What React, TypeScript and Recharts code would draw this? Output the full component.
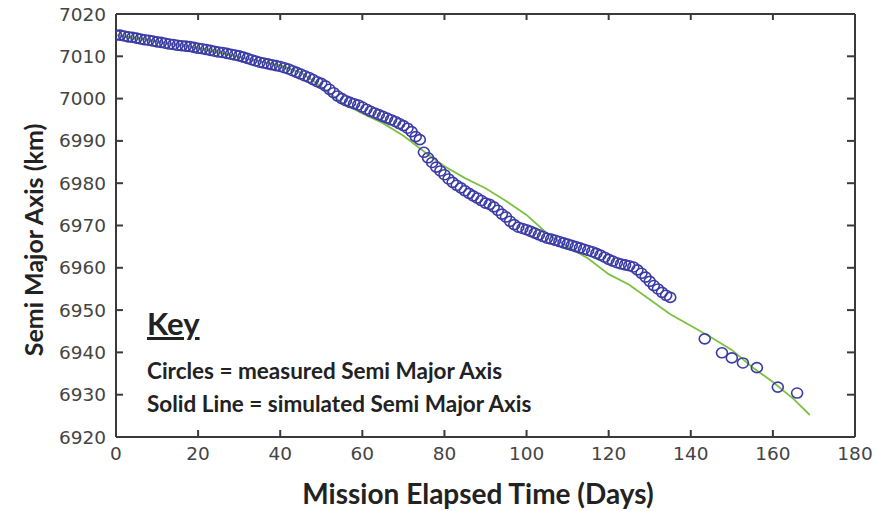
import React from "react";
import { ComposedChart, Line, Scatter, XAxis, YAxis } from "recharts";

// measured semi major axis (circles), day -> km
const measuredDays = [
  0, 1, 2, 3, 4, 5, 6, 7, 8, 9, 10, 11, 12, 13, 14, 15, 16, 17, 18, 19, 20,
  21, 22, 23, 24, 25, 26, 27, 28, 29, 30, 31, 32, 33, 34, 35, 36, 37, 38, 39,
  40, 41, 42, 43, 44, 45, 46, 47, 48, 49, 50, 51, 52, 53, 54, 55, 56, 57, 58,
  59, 60, 61, 62, 63, 64, 65, 66, 67, 68, 69, 70, 71, 72, 73, 74, 75, 76, 77,
  78, 79, 80, 81, 82, 83, 84, 85, 86, 87, 88, 89, 90, 91, 92, 93, 94, 95, 96,
  97, 98, 99, 100, 101, 102, 103, 104, 105, 106, 107, 108, 109, 110, 111, 112,
  113, 114, 115, 116, 117, 118, 119, 120, 121, 122, 123, 124, 125, 126, 127,
  128, 129, 130, 131, 132, 133, 134, 135, 143.4, 147.6, 150, 152.7, 156.1,
  161.2, 165.9,
];
const measuredKm = [
  7015.0, 7015.0, 7014.8, 7014.6, 7014.5, 7014.3, 7014.1, 7013.9, 7013.8,
  7013.6, 7013.4, 7013.3, 7013.1, 7012.9, 7012.8, 7012.6, 7012.5, 7012.4,
  7012.3, 7012.1, 7011.9, 7011.8, 7011.6, 7011.4, 7011.2, 7011.0, 7010.9,
  7010.7, 7010.5, 7010.3, 7010.1, 7009.8, 7009.5, 7009.2, 7008.9, 7008.6,
  7008.4, 7008.2, 7008.0, 7007.8, 7007.6, 7007.3, 7007.0, 7006.6, 7006.2,
  7005.8, 7005.4, 7005.0, 7004.5, 7004.0, 7003.6, 7003.0, 7002.2, 7001.4,
  7000.6, 7000.0, 6999.5, 6999.1, 6998.8, 6998.5, 6998.0, 6997.5, 6997.0,
  6996.6, 6996.2, 6995.8, 6995.4, 6995.0, 6994.6, 6994.1, 6993.6, 6993.0,
  6992.2, 6991.0, 6990.3, 6987.3, 6986.0, 6984.9, 6983.8, 6982.9, 6982.0,
  6981.0, 6980.2, 6979.5, 6978.9, 6978.2, 6977.6, 6977.0, 6976.5, 6975.9,
  6975.3, 6975.0, 6974.4, 6973.6, 6972.7, 6972.0, 6971.0, 6970.2, 6969.6,
  6969.3, 6969.0, 6968.6, 6968.2, 6967.8, 6967.4, 6967.0, 6966.8, 6966.5,
  6966.2, 6965.9, 6965.6, 6965.3, 6965.0, 6964.7, 6964.4, 6964.1, 6963.8,
  6963.4, 6963.0, 6962.5, 6962.0, 6961.6, 6961.2, 6960.9, 6960.7, 6960.5,
  6960.2, 6959.5, 6958.7, 6957.8, 6956.8, 6955.8, 6955.0, 6954.2, 6953.5,
  6953.0, 6943.2, 6939.9, 6938.7, 6937.5, 6936.4, 6931.8, 6930.4,
];

// simulated semi major axis (solid line)
const simDays = [
  0, 5, 10, 15, 20, 25, 30, 35, 40, 45, 50, 55, 60, 65, 70, 75, 80, 85, 90,
  95, 100, 105, 110, 115, 120, 125, 130, 135, 140, 145, 150, 155, 160, 165,
  169,
];
const simKm = [
  7015.0, 7014.3, 7013.5, 7012.7, 7012.0, 7011.0, 7009.8, 7008.8, 7007.8,
  7006.2, 7002.8, 6999.0, 6996.5, 6994.2, 6991.2, 6987.5, 6984.0, 6981.2,
  6978.8, 6975.8, 6972.5, 6968.1, 6965.0, 6962.2, 6958.5, 6956.0, 6952.5,
  6949.0, 6946.3, 6943.5, 6940.6, 6936.5, 6933.0, 6929.0, 6925.2,
];

const xTicks = [0, 20, 40, 60, 80, 100, 120, 140, 160, 180];
const yTicks = [6920, 6930, 6940, 6950, 6960, 6970, 6980, 6990, 7000, 7010, 7020];

const measured = measuredDays.map((d, i) => ({ day: d, km: measuredKm[i] }));
const simulated = simDays.map((d, i) => ({ day: d, km: simKm[i] }));

const W = 875;
const H = 511;
const MARGIN = { top: 13, right: 19, bottom: 34, left: 0 };
const PLOT_TOP = MARGIN.top + 1; // top axis is 1px tall
const PLOT_RIGHT = W - MARGIN.right - 1; // right axis is 1px wide

const AXIS = "#3a3a3a";
const TICK_LEN = 7;
const TICK_MARGIN = 10;
const tickFont = "'DejaVu Sans', 'Liberation Sans', sans-serif";
const boldFont = "Lato, 'Noto Sans', sans-serif";

// matlab style box: tick marks point into the plot on all four sides
const BottomTick = (props: any) => {
  const { x, y, payload } = props;
  const axisY = y - TICK_MARGIN;
  return (
    <g>
      <line x1={x} x2={x} y1={axisY} y2={axisY - TICK_LEN} stroke={AXIS} strokeWidth={2} />
      <line x1={x} x2={x} y1={PLOT_TOP} y2={PLOT_TOP + TICK_LEN - 1} stroke={AXIS} strokeWidth={2} />
      <text x={x} y={y} dy="0.71em" textAnchor="middle" fontSize={18.5} fill="#444" fontFamily={tickFont}>
        {payload.value}
      </text>
    </g>
  );
};

const LeftTick = (props: any) => {
  const { x, y, payload } = props;
  const axisX = x + TICK_MARGIN;
  return (
    <g>
      <line x1={axisX} x2={axisX + TICK_LEN} y1={y} y2={y} stroke={AXIS} strokeWidth={2} />
      <line x1={PLOT_RIGHT} x2={PLOT_RIGHT - TICK_LEN - 1} y1={y} y2={y} stroke={AXIS} strokeWidth={2} />
      <text x={x} y={y} dy="0.355em" textAnchor="end" fontSize={18.5} fill="#444" fontFamily={tickFont}>
        {payload.value}
      </text>
    </g>
  );
};

const Ring = (props: any) => {
  const { cx, cy } = props;
  if (cx == null || cy == null) return null;
  return <ellipse cx={cx} cy={cy} rx={5.5} ry={5} fill="none" stroke="#3b3ba6" strokeWidth={1.6} />;
};

export default function App() {
  return (
    <div style={{ position: "absolute", left: 0, top: 0, width: W, height: H, background: "#fff" }}>
      <ComposedChart width={W} height={H} margin={MARGIN}>
        <XAxis
          type="number"
          dataKey="day"
          domain={[0, 180]}
          ticks={xTicks}
          interval={0}
          height={40}
          tickSize={0}
          tickMargin={TICK_MARGIN}
          tickLine={false}
          stroke={AXIS}
          strokeWidth={2}
          tick={<BottomTick />}
          allowDataOverflow
        />
        <XAxis
          xAxisId="top"
          orientation="top"
          type="number"
          domain={[0, 180]}
          height={1}
          tick={false}
          tickLine={false}
          stroke={AXIS}
          strokeWidth={2}
        />
        <YAxis
          type="number"
          dataKey="km"
          domain={[6920, 7020]}
          ticks={yTicks}
          interval={0}
          width={116}
          tickSize={0}
          tickMargin={TICK_MARGIN}
          tickLine={false}
          stroke={AXIS}
          strokeWidth={2}
          tick={<LeftTick />}
          allowDataOverflow
        />
        <YAxis
          yAxisId="right"
          orientation="right"
          type="number"
          domain={[6920, 7020]}
          width={1}
          tick={false}
          tickLine={false}
          stroke={AXIS}
          strokeWidth={2}
        />
        <Scatter data={measured} dataKey="km" shape={<Ring />} isAnimationActive={false} />
        <Line
          data={simulated}
          dataKey="km"
          type="linear"
          stroke="#7cc242"
          strokeWidth={1.8}
          dot={false}
          isAnimationActive={false}
        />
      </ComposedChart>

      <div
        style={{
          position: "absolute",
          left: 33,
          top: 240,
          transform: "translate(-50%, -50%) rotate(-90deg)",
          whiteSpace: "nowrap",
          fontFamily: boldFont,
          fontWeight: 700,
          fontSize: 25,
          color: "#222",
        }}
      >
        Semi Major Axis (km)
      </div>
      <div
        style={{
          position: "absolute",
          left: 478,
          top: 493,
          transform: "translate(-50%, -50%)",
          whiteSpace: "nowrap",
          fontFamily: boldFont,
          fontWeight: 700,
          fontSize: 28,
          color: "#222",
        }}
      >
        Mission Elapsed Time (Days)
      </div>
      <div style={{ position: "absolute", left: 147, top: 304, fontFamily: boldFont, fontWeight: 700, color: "#222", whiteSpace: "nowrap" }}>
        <div style={{ fontSize: 31, textDecoration: "underline", lineHeight: "38px" }}>Key</div>
        <div style={{ fontSize: 22.5, lineHeight: "33px", marginTop: 12 }}>Circles = measured Semi Major Axis</div>
        <div style={{ fontSize: 22.5, lineHeight: "33px" }}>Solid Line = simulated Semi Major Axis</div>
      </div>
    </div>
  );
}
